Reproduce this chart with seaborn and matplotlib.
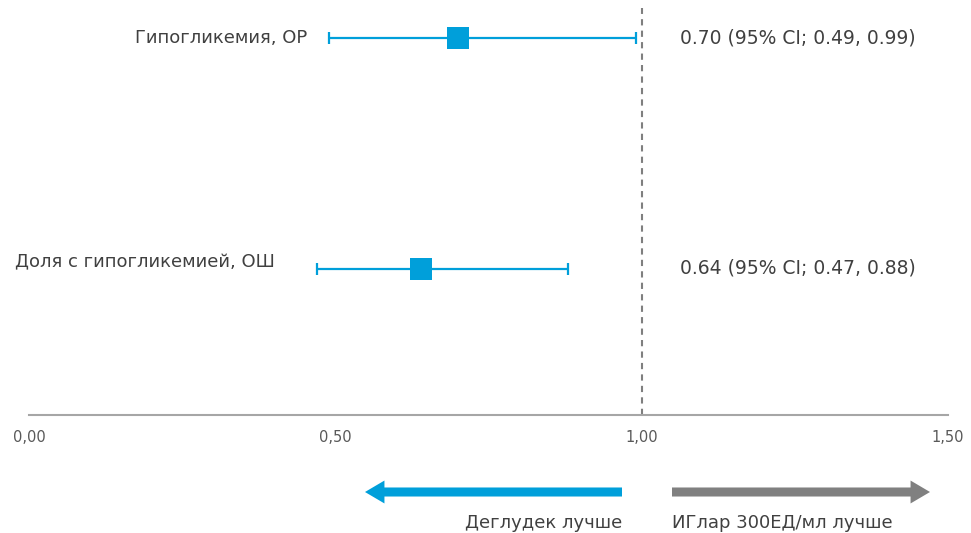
import matplotlib
matplotlib.use("Agg")
import matplotlib.pyplot as plt
import seaborn as sns
import pandas as pd

# Forest plot data
outcomes = ["Гипогликемия, ОР", "Доля с гипогликемией, ОШ"]
estimates = [0.70, 0.64]
ci_low = [0.49, 0.47]
ci_high = [0.99, 0.88]
ci_labels = ["0.70 (95% CI; 0.49, 0.99)", "0.64 (95% CI; 0.47, 0.88)"]
tick_values = [0.0, 0.5, 1.0, 1.5]
tick_labels = ["0,00", "0,50", "1,00", "1,50"]
left_caption = "Деглудек лучше"
right_caption = "ИГлар 300ЕД/мл лучше"

BLUE = "#009FDA"
GREY_ARROW = "#808080"
TEXT = "#404040"
AXIS = "#A6A6A6"

sns.set_theme(style="white")
plt.rcParams["font.family"] = ["DejaVu Sans"]

df = pd.DataFrame({"outcome": outcomes, "est": estimates,
                   "lo": ci_low, "hi": ci_high, "row": range(len(outcomes))})

fig = plt.figure(figsize=(9.71, 5.33), dpi=100)
ax = fig.add_axes([29 / 971, 1 - 415 / 533, 919 / 971, 407 / 533])

# confidence intervals
ax.errorbar(df["est"], df["row"],
            xerr=[df["est"] - df["lo"], df["hi"] - df["est"]],
            fmt="none", ecolor=BLUE, elinewidth=1.6, capsize=4, capthick=1.6,
            zorder=2)
# point estimates
sns.scatterplot(data=df, x="est", y="row", marker="s", s=250, color=BLUE,
                edgecolor=BLUE, linewidth=0, ax=ax, zorder=3, legend=False)

# line of no effect
ax.axvline(1.0, color="#7F7F7F", ls=(0, (3, 2.5)), lw=1.5, zorder=1)

ax.set_xlim(0, 1.5)
ax.set_ylim(1.632, -0.13)
ax.set_xticks(tick_values)
ax.set_xticklabels(tick_labels, color="#595959", fontsize=10.5)
ax.set_yticks([])
ax.set_xlabel("")
ax.set_ylabel("")
for side in ["top", "left", "right"]:
    ax.spines[side].set_visible(False)
ax.spines["bottom"].set_color(AXIS)
ax.spines["bottom"].set_linewidth(1.5)
ax.tick_params(axis="x", direction="out", length=5, width=1.5, color=AXIS, pad=6)

LABEL_FS = 13
# outcome names and estimate labels
fig.text(307 / 971, 1 - 38 / 533, outcomes[0], ha="right", va="center",
         fontsize=LABEL_FS, color=TEXT)
fig.text(15 / 971, 1 - 262 / 533, outcomes[1], ha="left", va="center",
         fontsize=LABEL_FS, color=TEXT)
for i, lab in enumerate(ci_labels):
    fig.text(680 / 971, 1 - (38 if i == 0 else 268) / 533, lab,
             ha="left", va="center", fontsize=13.5, color=TEXT)

# direction arrows
arrow_style = "simple,head_length=14,head_width=16.5,tail_width=6.5"
fig.add_artist(matplotlib.patches.FancyArrowPatch(
    (622 / 971, 1 - 492 / 533), (365 / 971, 1 - 492 / 533),
    transform=fig.transFigure, arrowstyle=arrow_style, mutation_scale=1,
    color=BLUE, lw=0, shrinkA=0, shrinkB=0))
fig.add_artist(matplotlib.patches.FancyArrowPatch(
    (672 / 971, 1 - 492 / 533), (930 / 971, 1 - 492 / 533),
    transform=fig.transFigure, arrowstyle=arrow_style, mutation_scale=1,
    color=GREY_ARROW, lw=0, shrinkA=0, shrinkB=0))
fig.text(622 / 971, 1 - 523 / 533, left_caption, ha="right", va="center",
         fontsize=LABEL_FS, color=TEXT)
fig.text(672 / 971, 1 - 523 / 533, right_caption, ha="left", va="center",
         fontsize=LABEL_FS, color=TEXT)

fig.savefig("out.png", dpi=100, facecolor="white")
